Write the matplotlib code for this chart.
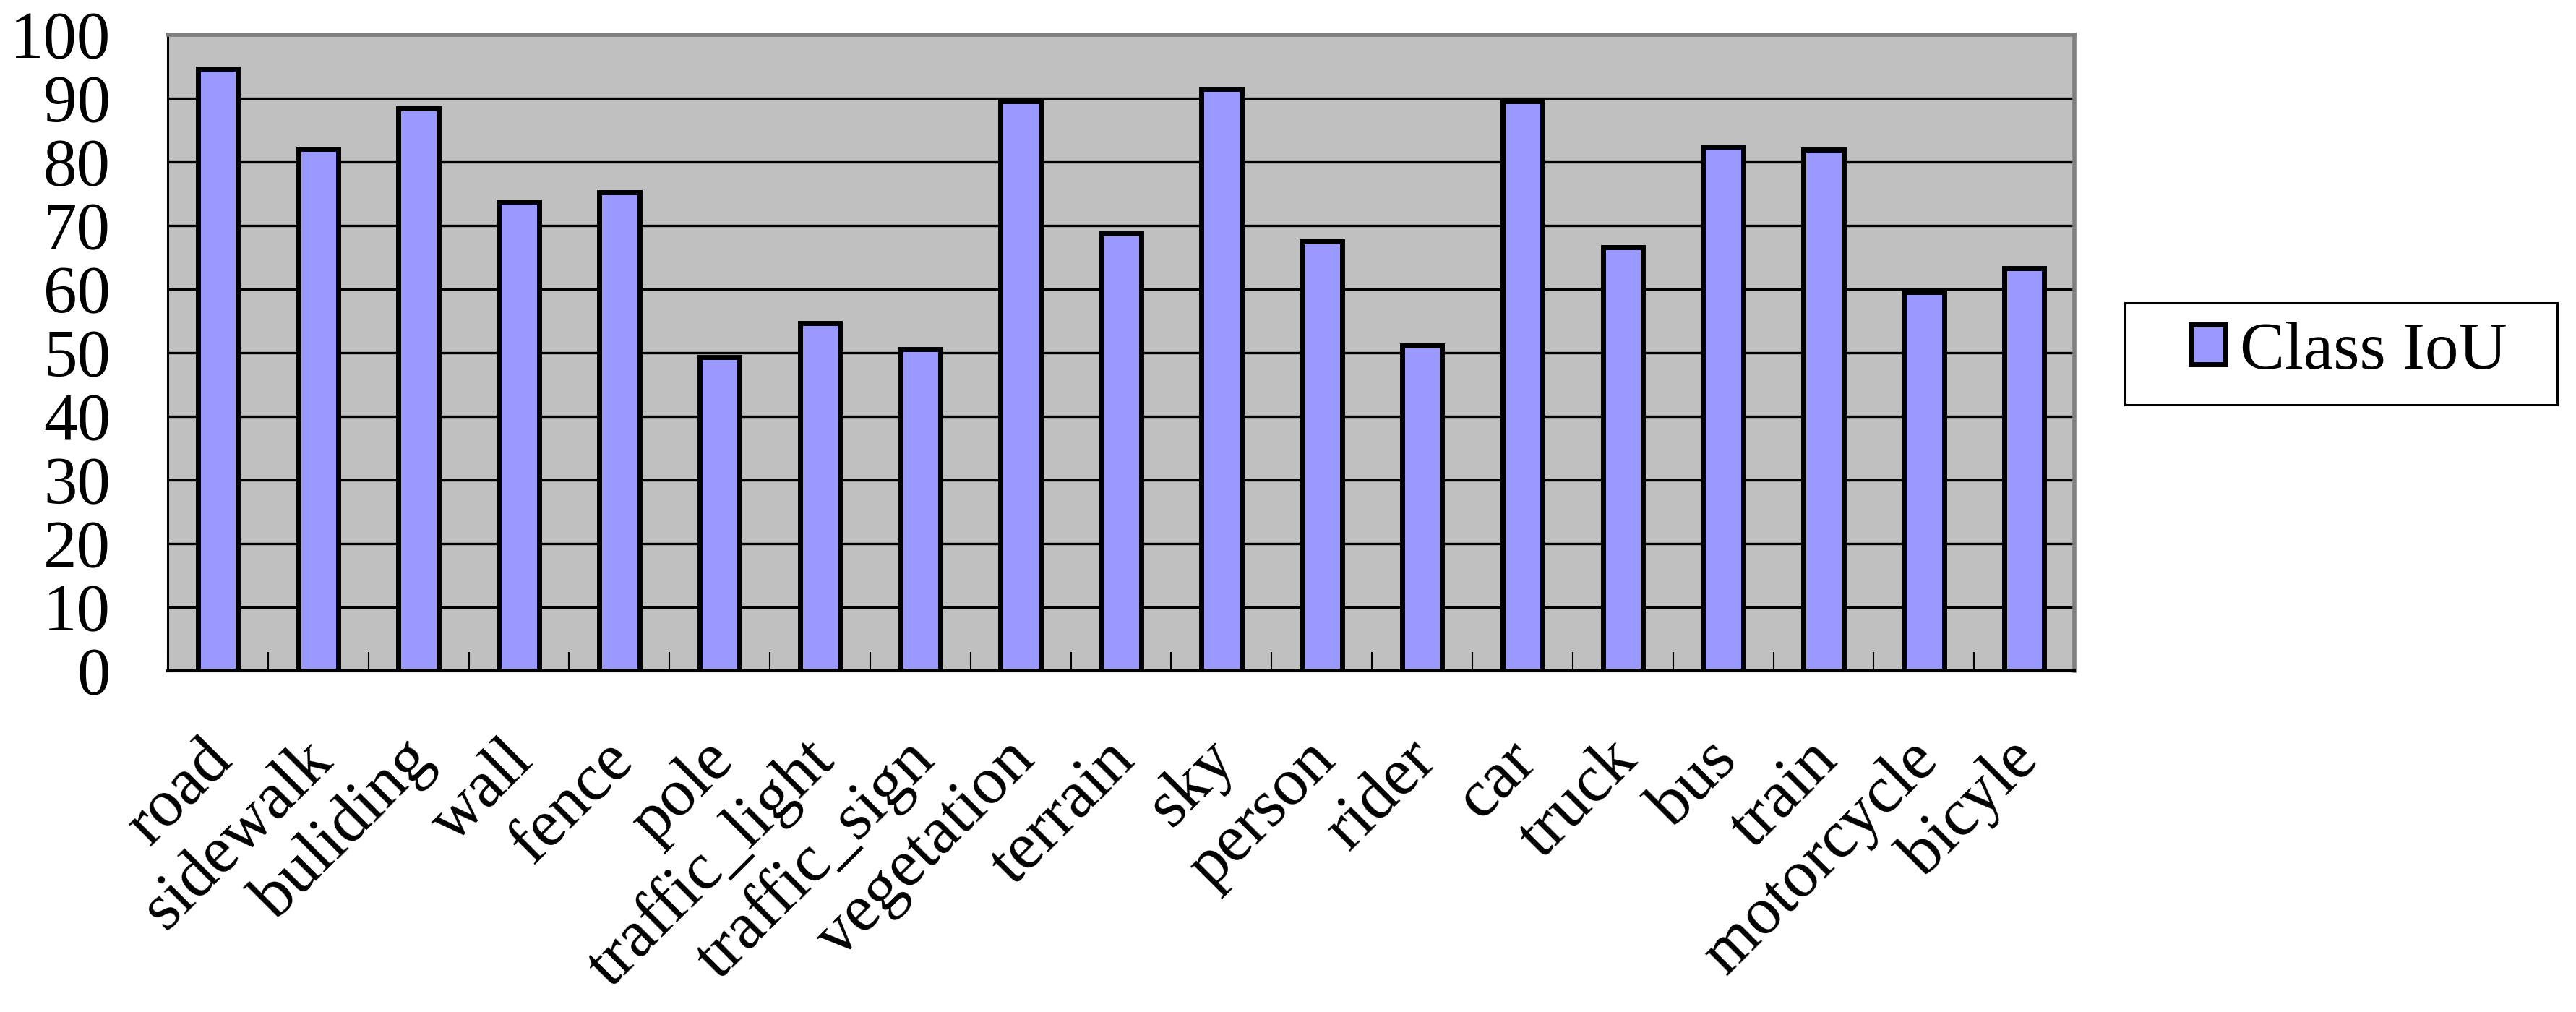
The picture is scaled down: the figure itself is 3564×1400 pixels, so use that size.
import matplotlib
matplotlib.use("Agg")
import matplotlib.pyplot as plt
from matplotlib.patches import Rectangle, Patch
from matplotlib.transforms import ScaledTranslation
import numpy as np

categories = ["road", "sidewalk", "buliding", "wall", "fence", "pole",
              "traffic_light", "traffic_sign", "vegetation", "terrain", "sky",
              "person", "rider", "car", "truck", "bus", "train", "motorcycle",
              "bicyle"]
class_iou = [94.7, 82.0, 88.4, 73.8, 75.2, 49.3, 54.7, 50.6, 89.6, 68.8,
             91.5, 67.5, 51.1, 89.5, 66.6, 82.4, 81.9, 59.5, 63.3]
y_ticks = [0, 10, 20, 30, 40, 50, 60, 70, 80, 90, 100]
series_name = "Class IoU"

plt.rcParams['font.family'] = ['Liberation Serif', 'DejaVu Serif']

fig = plt.figure(figsize=(35.64, 14), dpi=100)
ax = fig.add_axes([0.0651, 0.3371, 0.8053 - 0.0651, 0.9657 - 0.3371])
ax.set_facecolor('#C0C0C0')

x = np.arange(len(categories))
ax.bar(x, class_iou, width=0.4, color='#9999FF', edgecolor='black',
       linewidth=5, zorder=3)

ax.set_xlim(-0.5, len(categories) - 0.5)
ax.set_ylim(0, 100)
ax.set_yticks(y_ticks)
ax.yaxis.grid(True, color='black', linewidth=2.4)
ax.set_axisbelow(True)

# spines
for s in ['top', 'right']:
    ax.spines[s].set_color('#808080')
    ax.spines[s].set_linewidth(4)
ax.spines['left'].set_color('black')
ax.spines['left'].set_linewidth(2.2)
ax.spines['bottom'].set_color('black')
ax.spines['bottom'].set_linewidth(3)

# ticks
ax.tick_params(axis='y', direction='in', length=20, width=2, pad=57,
               labelsize=67, color='black')
ax.set_xticks(x)
ax.set_xticklabels(categories, rotation=45, ha='right', va='top',
                   rotation_mode='anchor', fontsize=67)
ax.tick_params(axis='x', which='major', length=0, pad=58)
ax.set_xticks(np.arange(-0.5, len(categories) + 0.5, 1), minor=True)
ax.tick_params(axis='x', which='minor', direction='in', length=19, width=1.5,
               color='black')
off = ScaledTranslation(-24 / 100, 0, fig.dpi_scale_trans)
for lab in ax.get_xticklabels():
    lab.set_transform(lab.get_transform() + off)

# legend
handle = Patch(facecolor='#9999FF', edgecolor='black', linewidth=5)
fig.legend(handles=[handle], labels=[series_name], loc='center',
           bbox_to_anchor=(0.9118, 0.652), frameon=False, fontsize=67,
           handlelength=0.52, handleheight=0.54, handletextpad=0.21)
fig.add_artist(Rectangle((0.8249, 0.6), 0.1678, 0.1007,
                         transform=fig.transFigure, fill=False,
                         edgecolor='black', linewidth=2.2))

fig.savefig('out.png', dpi=100)
